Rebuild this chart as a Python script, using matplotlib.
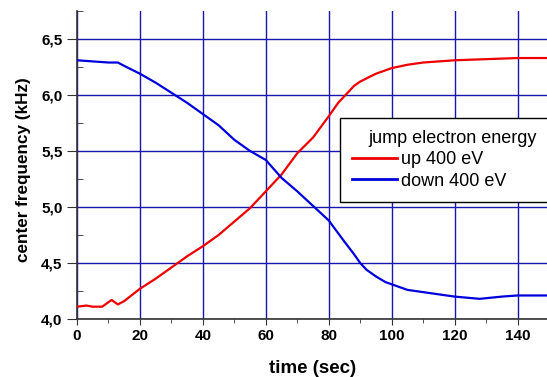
import numpy as np
import matplotlib.pyplot as plt
from matplotlib.ticker import MultipleLocator, FuncFormatter

# values
t_up = [0, 3, 5, 8, 10, 11, 13, 15, 20, 25, 30, 35, 40, 45, 50, 55, 60, 65,
        70, 75, 80, 83, 85, 88, 90, 95, 100, 105, 110, 115, 120, 130, 140, 150]
f_up = [4.11, 4.12, 4.11, 4.11, 4.15, 4.17, 4.13, 4.16, 4.27, 4.36, 4.46, 4.56,
        4.65, 4.75, 4.87, 4.99, 5.14, 5.29, 5.48, 5.62, 5.81, 5.93, 5.99, 6.08,
        6.12, 6.19, 6.24, 6.27, 6.29, 6.30, 6.31, 6.32, 6.33, 6.33]

t_down = [0, 5, 10, 13, 15, 20, 25, 30, 35, 40, 45, 50, 55, 60, 65, 70, 75,
          80, 85, 88, 90, 92, 95, 98, 100, 105, 110, 115, 120, 128, 135, 140, 150]
f_down = [6.31, 6.30, 6.29, 6.29, 6.26, 6.19, 6.11, 6.02, 5.93, 5.83, 5.73,
          5.60, 5.50, 5.42, 5.26, 5.14, 5.01, 4.88, 4.69, 4.58, 4.50, 4.44,
          4.38, 4.33, 4.31, 4.26, 4.24, 4.22, 4.20, 4.18, 4.20, 4.21, 4.21]

labels = ['up 400 eV', 'down 400 eV']
legend_title = 'jump electron energy'

plt.rcParams['font.family'] = ['Liberation Sans', 'DejaVu Sans']

fig = plt.figure(figsize=(5.47, 3.77), dpi=100)
ax = fig.add_axes([77/547, 58/377, 472/547, 308/377])

ax.plot(t_up, f_up, color='#ee0000', linewidth=1.6, label=labels[0], zorder=3)
ax.plot(t_down, f_down, color='#0000dd', linewidth=1.6, label=labels[1], zorder=3)

ax.set_xlim(0, 150)
ax.set_ylim(4.0, 6.75)
ax.xaxis.set_major_locator(MultipleLocator(20))
ax.xaxis.set_minor_locator(MultipleLocator(10))
ax.yaxis.set_major_locator(MultipleLocator(0.5))
ax.yaxis.set_minor_locator(MultipleLocator(0.25))
ax.yaxis.set_major_formatter(FuncFormatter(lambda v, p: f'{v:.1f}'.replace('.', ',')))

ax.grid(True, which='major', color='#1818b0', linewidth=1.0)
ax.set_axisbelow(True)

for s in ['top', 'right']:
    ax.spines[s].set_visible(False)
for s in ['left', 'bottom']:
    ax.spines[s].set_color('#333333')
    ax.spines[s].set_linewidth(1.2)

ax.tick_params(axis='y', which='major', direction='out', length=7, color='#333333')
ax.tick_params(axis='y', which='minor', direction='in', length=4, color='#333333')
ax.tick_params(axis='x', which='major', direction='out', length=4, color='#333333')
ax.tick_params(axis='x', which='minor', direction='out', length=3, color='#333333')
for lab in ax.get_xticklabels() + ax.get_yticklabels():
    lab.set_fontweight('bold')
    lab.set_fontsize(11)

ax.set_xlabel('time (sec)', fontsize=13.5, fontweight='bold', labelpad=12)
ax.set_ylabel('center frequency (kHz)', fontsize=12.3, fontweight='bold')
ax.yaxis.set_label_coords(-0.097, 0.485)

leg = ax.legend(title=legend_title, loc='upper left',
                bbox_to_anchor=(340/547, 1 - 202/377, 225/547, 84/377),
                bbox_transform=fig.transFigure, mode='expand',
                fancybox=False, edgecolor='black', framealpha=1,
                fontsize=13, title_fontsize=13, borderaxespad=0,
                borderpad=0.65, handlelength=2.5, handletextpad=0.25,
                labelspacing=0.25)
leg.get_frame().set_linewidth(1.0)
for line in leg.get_lines():
    line.set_linewidth(2)

fig.savefig('out.png', dpi=100)
